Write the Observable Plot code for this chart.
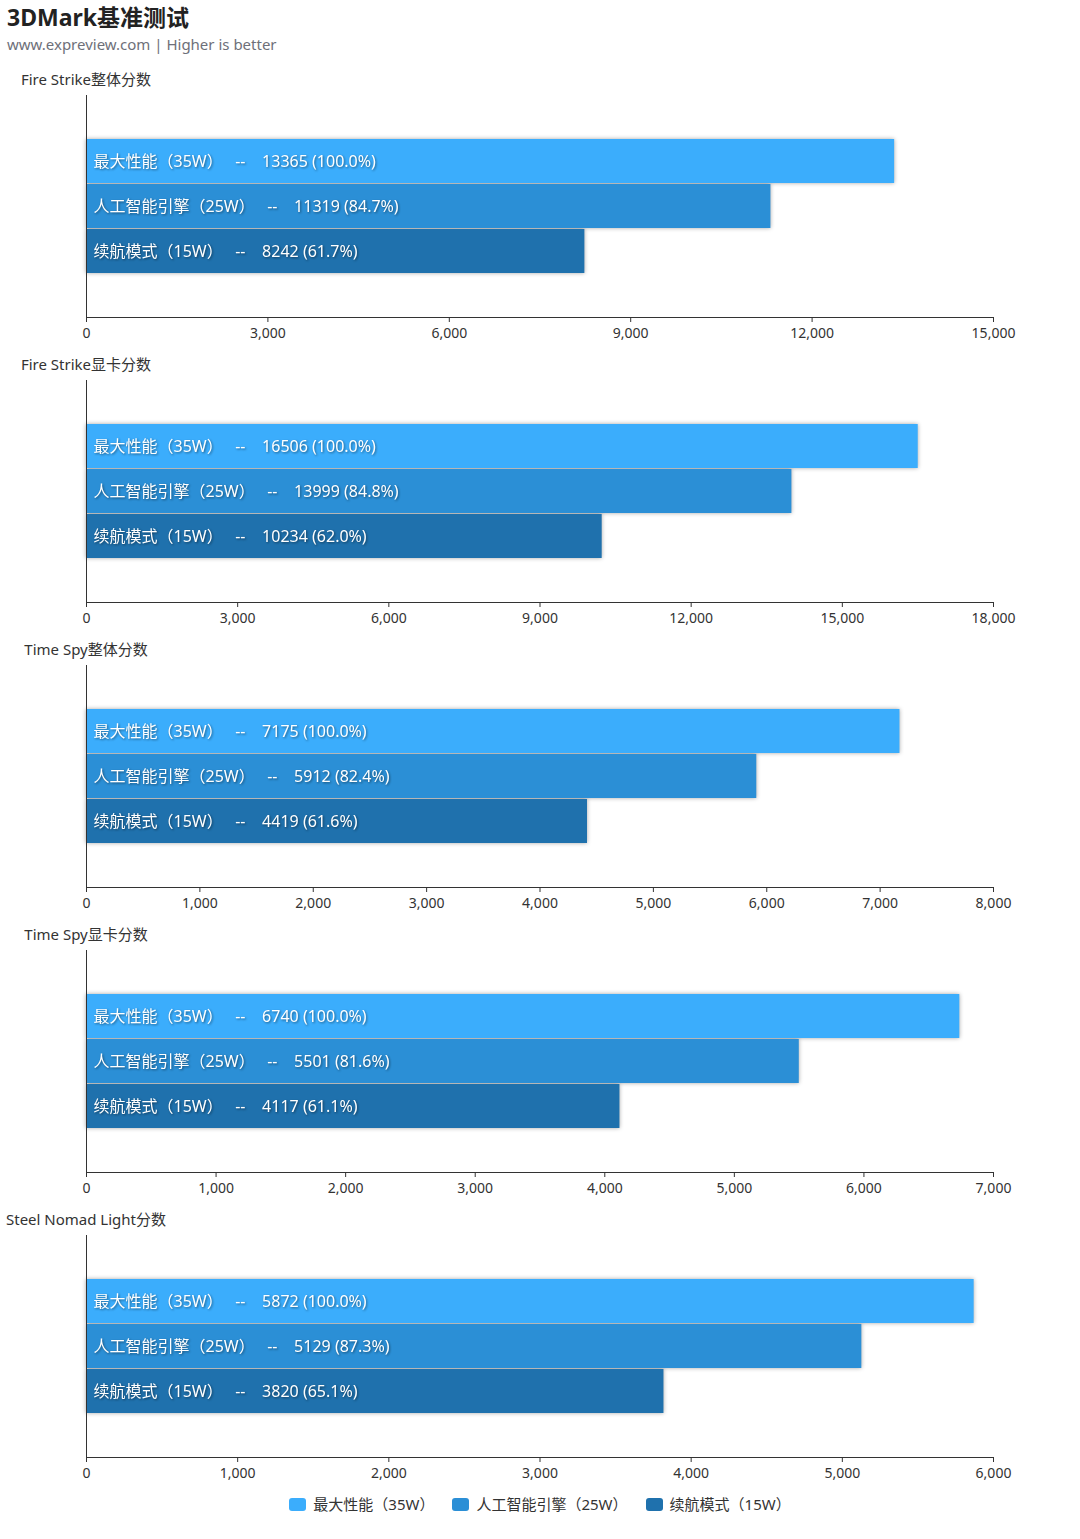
<!DOCTYPE html>
<html><head><meta charset="utf-8">
<script src="https://cdn.jsdelivr.net/npm/d3@7"></script>
<script src="https://cdn.jsdelivr.net/npm/@observablehq/plot@0.6"></script>
<style>
body{margin:0;background:#fff;font-family:"Noto Sans","Noto Sans CJK SC",sans-serif;width:1080px;height:1539px;overflow:hidden}
#title{position:absolute;left:7px;top:2px;font-size:23px;font-weight:bold;color:#222;line-height:30px}
#sub{position:absolute;left:7px;top:34px;font-size:15px;color:#6e7079;line-height:20px}
#charts{position:absolute;left:0;top:69px;width:1080px}
.ptitle{height:20px;line-height:20px;font-size:15px;color:#333;width:172px;text-align:center;white-space:nowrap}
svg g[aria-label="bar"]{filter:drop-shadow(0 0 2px rgba(0,0,0,0.35))}
svg g[aria-label="text"]{filter:drop-shadow(1px 1px 1px rgba(0,0,0,0.45));white-space:pre}
#legend{display:flex;justify-content:center;gap:18px;font-size:15px;color:#333;line-height:20px;margin-left:0}
#legend span.sw{display:inline-block;width:17px;height:13px;border-radius:3px;margin-right:7px;vertical-align:-1px}
</style></head>
<body>
<div id="title">3DMark基准测试</div>
<div id="sub">www.expreview.com | Higher is better</div>
<div id="charts"></div>
<script>
const series = ["最大性能（35W）", "人工智能引擎（25W）", "续航模式（15W）"];
const colors = ["#3badfc", "#2b8fd6", "#1f71ad"];
const panelTitles = ["Fire Strike整体分数", "Fire Strike显卡分数", "Time Spy整体分数", "Time Spy显卡分数", "Steel Nomad Light分数"];
const valsMax = [13365, 16506, 7175, 6740, 5872];
const valsAI = [11319, 13999, 5912, 5501, 5129];
const valsEco = [8242, 10234, 4419, 4117, 3820];
const pctMax = ["100.0%", "100.0%", "100.0%", "100.0%", "100.0%"];
const pctAI = ["84.7%", "84.8%", "82.4%", "81.6%", "87.3%"];
const pctEco = ["61.7%", "62.0%", "61.6%", "61.1%", "65.1%"];
const axisMax = [15000, 18000, 8000, 7000, 6000];
const axisStep = [3000, 3000, 1000, 1000, 1000];
const gaps = ["   --    ", "   --    ", "   --    "];

const FONT = '"Noto Sans","Noto Sans CJK SC",sans-serif';
const container = document.getElementById("charts");
panelTitles.forEach((t, i) => {
  const head = document.createElement("div");
  head.className = "ptitle";
  head.textContent = t;
  container.appendChild(head);
  const vals = [valsMax[i], valsAI[i], valsEco[i]];
  const pcts = [pctMax[i], pctAI[i], pctEco[i]];
  const data = series.map((s, j) => ({s, v: vals[j], label: s + gaps[j] + vals[j] + " (" + pcts[j] + ")"}));
  const ticks = d3.range(0, axisMax[i] + 1, axisStep[i]);
  const svg = Plot.plot({
    width: 1080, height: 265,
    marginLeft: 86, marginRight: 87, marginTop: 6, marginBottom: 37,
    style: {fontFamily: FONT, background: "#fff"},
    x: {domain: [0, axisMax[i]], ticks, tickFormat: d3.format(","), label: null},
    y: {domain: series, paddingInner: 0.03, paddingOuter: 0.95, axis: null},
    color: {domain: series, range: colors},
    marks: [
      Plot.barX(data, {y: "s", x: "v", fill: "s"}),
      Plot.text(data, {y: "s", frameAnchor: "left", dx: 7, text: "label", fill: "#fff", fontSize: 16, textAnchor: "start"}),
      Plot.ruleX([0], {stroke: "#333", strokeWidth: 1}),
      Plot.frame({anchor: "bottom", stroke: "#333"}),
      Plot.axisX({ticks, tickFormat: d3.format(","), tickSize: 5, tickPadding: 6, fontSize: 14, color: "#333", label: null})
    ]
  });
  svg.style.display = "block";
  container.appendChild(svg);
});
const legend = document.createElement("div");
legend.id = "legend";
series.forEach((s, j) => {
  const item = document.createElement("div");
  item.innerHTML = `<span class="sw" style="background:${colors[j]}"></span>${s}`;
  legend.appendChild(item);
});
container.appendChild(legend);
</script>
</body></html>
